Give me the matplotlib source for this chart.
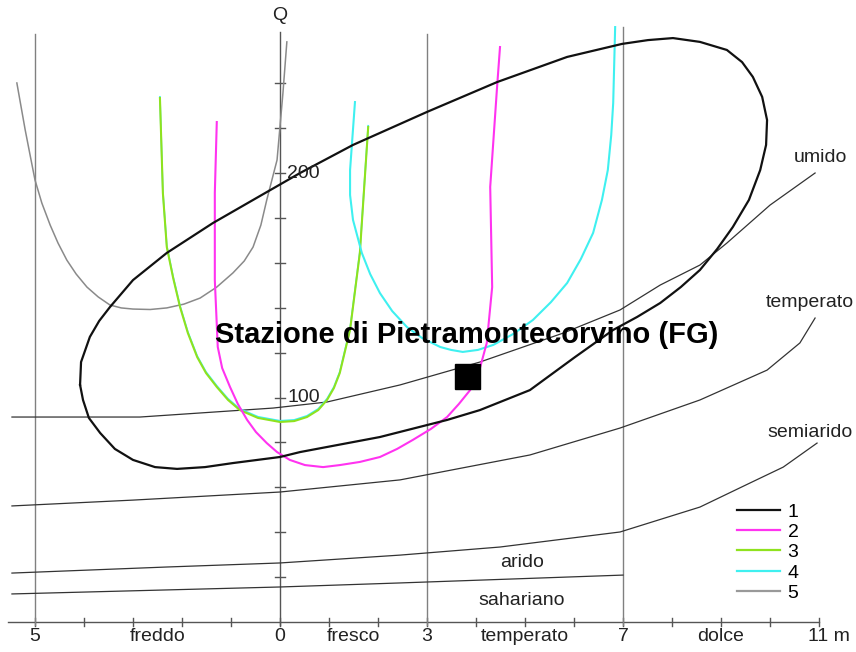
import matplotlib
matplotlib.use("Agg")
import matplotlib.pyplot as plt
from matplotlib.lines import Line2D
from matplotlib import transforms

plt.rcParams['font.family'] = ['Liberation Sans', 'DejaVu Sans']

# Emberger climatogram: m (mean minimum of the coldest month, °C) vs Q (pluviothermic quotient)
x_ticks = list(range(-5, 12))
x_labels = [(-5, "5"), (-2.5, "freddo"), (0, "0"), (1.5, "fresco"), (3, "3"),
            (5, "temperato"), (7, "7"), (9, "dolce"), (11.2, "11 m")]
q_ticks = [20, 40, 60, 80, 100, 120, 140, 160, 180, 200, 220, 240]
q_labels = [100, 200]
v_lines = [-5, 3, 7]

# curve 1 (closed loop)
c1_m = [-4.08, -4.06, -3.88, -3.69, -3.47, -3.00, -2.31, -1.37, -0.27, 0.41, 1.49, 3.00,
        4.43, 5.86, 6.98, 7.51, 8.02, 8.57, 9.12, 9.43, 9.65, 9.84, 9.94, 9.92, 9.80, 9.57,
        9.24, 8.92, 8.57, 8.18, 7.76, 7.29, 6.80, 6.02, 5.10, 4.08, 3.41, 2.04, 0.41, 0.00,
        -0.96, -1.53, -2.10, -2.55, -3.00, -3.37, -3.67, -3.90, -4.02, -4.08]
c1_q = [105.6, 115.8, 127.0, 134.1, 140.3, 152.3, 164.4, 177.7, 191.5, 200.0, 212.5, 227.2,
        240.5, 251.7, 257.5, 259.2, 260.1, 258.4, 254.8, 249.4, 242.8, 233.9, 223.6, 212.5,
        201.3, 188.0, 175.9, 166.1, 156.8, 149.2, 142.1, 135.9, 130.1, 118.0, 103.3, 94.4,
        90.0, 82.4, 75.7, 73.5, 70.8, 69.0, 68.2, 69.0, 72.2, 77.1, 84.2, 90.9, 98.9, 105.6]

# curve 2
c2_m = [-1.29, -1.33, -1.33, -1.27, -1.18, -1.02, -0.86, -0.67, -0.49, -0.27, -0.06, 0.20,
        0.51, 0.88, 1.22, 1.63, 2.04, 2.39, 2.71, 3.08, 3.41, 3.65, 3.88, 4.08, 4.22, 4.33,
        4.29, 4.43, 4.49]
c2_q = [222.7, 191.1, 152.3, 122.5, 113.1, 104.7, 97.1, 90.0, 84.6, 79.7, 75.7, 72.2,
        69.9, 69.0, 69.9, 71.3, 73.5, 77.1, 81.1, 86.0, 91.3, 97.1, 103.3, 113.1, 124.3, 149.2,
        193.8, 238.3, 256.1]

# curve 3
c3_m = [-2.45, -2.39, -2.31, -2.18, -2.04, -1.88, -1.69, -1.51, -1.29, -1.06, -0.82, -0.45,
        0.00, 0.29, 0.55, 0.78, 0.96, 1.10, 1.22, 1.43, 1.63, 1.80]
c3_q = [233.4, 191.1, 167.0, 153.2, 140.3, 128.7, 118.0, 110.9, 104.7, 98.9, 94.4, 90.9,
        89.1, 89.5, 91.3, 94.4, 98.9, 104.2, 110.9, 130.1, 164.4, 220.5]

# curve 4
c4_m = [1.53, 1.43, 1.43, 1.49, 1.67, 1.84, 2.04, 2.29, 2.59, 2.90, 3.27, 3.49, 3.73, 4.04,
        4.35, 4.76, 5.16, 5.53, 5.86, 6.14, 6.39, 6.57, 6.69, 6.76, 6.80, 6.84]
c4_q = [231.6, 201.3, 190.2, 179.1, 164.4, 155.0, 146.5, 138.5, 131.4, 126.5, 122.5, 121.2,
        120.3, 121.2, 123.4, 128.3, 134.5, 142.5, 151.0, 161.7, 173.3, 188.0, 201.3, 216.9,
        231.2, 265.0]

# curve 5
c5_m = [-5.37, -5.20, -5.10, -5.00, -4.86, -4.69, -4.53, -4.35, -4.16, -3.94, -3.71, -3.47,
        -3.24, -3.00, -2.65, -2.31, -1.96, -1.63, -1.29, -0.96, -0.73, -0.55, -0.39, -0.27,
        -0.06, 0.06, 0.14]
c5_q = [240.1, 219.2, 208.0, 196.9, 186.6, 176.8, 168.8, 161.2, 155.0, 149.2, 144.8, 141.2,
        139.9, 139.4, 139.2, 139.9, 141.6, 144.3, 149.2, 155.5, 160.8, 167.0, 176.8, 188.0,
        205.8, 235.6, 258.4]

# bioclimatic zone boundaries
umido_m = [-5.47, -2.86, -0.14, 0.96, 2.45, 4.08, 5.78, 6.94, 7.76, 8.57, 9.12, 10.0, 10.92]
umido_q = [91.3, 91.3, 95.3, 98.0, 105.6, 115.8, 128.7, 139.0, 150.1, 159.0, 168.8, 185.7, 200.0]
temperato_m = [-5.47, -3.00, 0.00, 2.45, 5.10, 6.94, 8.57, 9.94, 10.61, 10.92]
temperato_q = [51.7, 54.3, 57.9, 63.3, 74.4, 86.4, 98.9, 112.2, 124.3, 135.4]
semiarido_m = [-5.47, -2.31, 0.00, 2.45, 4.49, 6.94, 8.57, 9.59, 10.27, 10.96]
semiarido_q = [21.8, 24.5, 26.3, 29.8, 33.4, 40.1, 51.2, 61.9, 69.0, 79.7]
arido_m = [-5.47, 0.00, 2.45, 7.0]
arido_q = [12.5, 15.6, 17.4, 20.9]

zone_labels = [(11.02, 206.7, "umido"), (10.82, 142.1, "temperato"),
               (10.82, 84.6, "semiarido"), (4.94, 26.3, "arido"), (4.94, 9.8, "sahariano")]

station_name = "Stazione di Pietramontecorvino (FG)"
station_m, station_q = 3.82, 109.8

fig = plt.figure(figsize=(8.56, 6.52), dpi=100)
ax = fig.add_axes([0, 0, 1, 1])
ax.set_xlim(-5.714, 11.755)
ax.set_ylim(-13.36, 277.06)
ax.axis('off')

FS = 14
axis_col = '#555555'
# frame lines
ax.plot([-5.55, 11.0], [0, 0], color=axis_col, lw=1.0)
for t in x_ticks:
    ax.plot([t, t], [-1.8, 1.8], color=axis_col, lw=1.0)
ax.plot([0, 0], [-1.5, 263], color=axis_col, lw=1.0)
for v in v_lines:
    ax.plot([v, v], [-1.5, 265 if v == 7 else 262], color='#808080', lw=1.0)
for q in q_ticks:
    ax.plot([-0.1, 0.1], [q, q], color=axis_col, lw=1.0)
for q in q_labels:
    ax.text(0.15, q, str(q), fontsize=FS, ha='left', va='center', color='#222222')
ax.text(0, 270, "Q", fontsize=FS, ha='center', va='center', color='#222222')
for x, s in x_labels:
    ax.text(x, -6.5, s, fontsize=FS, ha='center', va='center', color='#222222')

# zone boundaries
for mm, qq in [(umido_m, umido_q), (temperato_m, temperato_q),
               (semiarido_m, semiarido_q), (arido_m, arido_q)]:
    ax.plot(mm, qq, color='#333333', lw=0.9)
for x, y, s in zone_labels:
    ax.text(x, y, s, fontsize=FS, ha='center', va='center', color='#222222')

# climate curves
col1, col2, col3, col4, col5 = '#111111', '#ff33f0', '#8fe21e', '#3ff0f0', '#8a8a8a'
ax.plot(c5_m, c5_q, color=col5, lw=1.1)
shift = transforms.offset_copy(ax.transData, fig=fig, x=0, y=1.2, units='dots')
ax.plot(c3_m, c3_q, color=col4, lw=1.2, transform=shift)
ax.plot(c3_m, c3_q, color=col3, lw=1.5)
ax.plot(c4_m, c4_q, color=col4, lw=1.5)
ax.plot(c2_m, c2_q, color=col2, lw=1.5)
ax.plot(c1_m, c1_q, color=col1, lw=1.6)

# station
ax.plot([station_m], [station_q], marker='s', ms=18, color='black', linestyle='none')
ax.text(3.82, 127.8, station_name, fontsize=21, fontweight='bold', ha='center', va='center')

handles = [Line2D([], [], color=c, lw=1.6) for c in (col1, col2, col3, col4, '#999999')]
ax.legend(handles, ["1", "2", "3", "4", "5"], loc='upper left',
          bbox_to_anchor=(737 / 856, 1 - 503 / 652), frameon=False, fontsize=FS,
          handlelength=2.2, handletextpad=0.4, labelspacing=0.14, borderpad=0,
          borderaxespad=0)

fig.savefig("out.png", dpi=100, facecolor='white')
